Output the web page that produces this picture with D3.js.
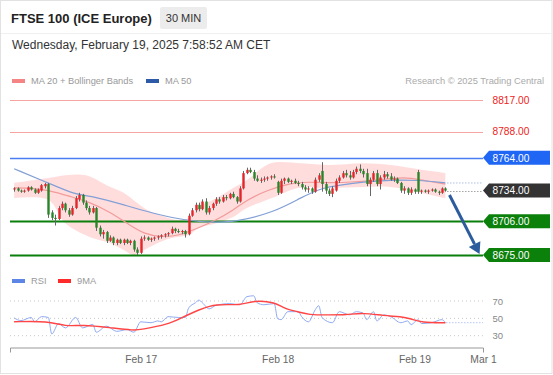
<!DOCTYPE html>
<html>
<head>
<meta charset="utf-8">
<script src="https://cdn.jsdelivr.net/npm/d3@7"></script>
<style>
  body { margin: 0; background: #fff; }
  svg text { font-family: "Liberation Sans", Arial, sans-serif; }
</style>
</head>
<body>
<div id="chart"></div>
<script>
// 30 min candles, Feb 14 -> Feb 19 2025 (index 0 .. 126)
var candleOpen = [8735,8736,8734,8733,8734,8737,8735,8732,8734,8738,8740,8714,8709,8708,8718,8722,8716,8712,8718,8726,
  8730,8723,8718,8714,8718,8700,8694,8696,8688,8691,8686,8689,8686,8689,8686,8688,8680,8677,8690,8691,
  8689,8690,8691,8692,8693,8694,8695,8699,8697,8696,8697,8694,8711,8716,8721,8717,8724,8714,8718,8722,
  8726,8724,8728,8727,8731,8728,8724,8736,8750,8753,8751,8745,8743,8744,8745,8746,8747,8742,8732,8743,
  8745,8742,8743,8741,8740,8737,8735,8736,8733,8744,8752,8740,8734,8731,8734,8743,8746,8750,8748,8746,
  8751,8754,8752,8750,8740,8744,8750,8740,8746,8749,8747,8744,8745,8741,8734,8736,8732,8735,8751,8733,
  8734,8733,8734,8735,8733,8732,8736];
var candleHigh = [8737,8737,8735,8735,8738,8738,8736,8736,8740,8741,8741,8716,8712,8720,8724,8723,8718,8720,8729,8732,
  8731,8725,8720,8720,8719,8702,8698,8697,8693,8692,8690,8690,8690,8690,8689,8689,8682,8692,8693,8692,
  8691,8692,8693,8694,8695,8696,8701,8700,8699,8698,8698,8713,8718,8723,8723,8726,8727,8720,8723,8728,
  8728,8730,8730,8732,8733,8729,8738,8752,8755,8755,8753,8748,8746,8747,8747,8748,8749,8743,8745,8746,
  8746,8744,8745,8743,8742,8739,8738,8737,8746,8750,8760,8742,8736,8738,8745,8748,8752,8753,8752,8753,
  8756,8758,8754,8754,8746,8752,8753,8748,8752,8751,8750,8747,8746,8742,8738,8737,8737,8736,8753,8735,
  8735,8735,8736,8736,8734,8737,8737];
var candleLow = [8733,8733,8732,8732,8733,8734,8731,8731,8733,8736,8709,8707,8702,8707,8716,8714,8710,8711,8717,8724,
  8721,8716,8712,8713,8697,8692,8690,8686,8687,8684,8684,8685,8684,8685,8684,8678,8675,8676,8688,8688,
  8687,8688,8689,8690,8691,8692,8694,8695,8695,8694,8691,8693,8710,8714,8715,8716,8712,8712,8716,8720,
  8722,8723,8725,8726,8727,8722,8723,8735,8749,8750,8743,8742,8741,8742,8743,8744,8745,8730,8731,8740,
  8741,8740,8740,8738,8735,8733,8732,8731,8732,8742,8733,8731,8729,8728,8733,8741,8745,8746,8744,8745,
  8749,8750,8746,8738,8729,8742,8738,8735,8744,8745,8743,8742,8740,8732,8731,8730,8730,8731,8731,8731,
  8732,8731,8733,8732,8730,8731,8733];
var candleClose = [8736,8734,8733,8734,8737,8735,8732,8735,8739,8740,8712,8709,8708,8718,8722,8716,8712,8718,8727,8730,
  8723,8718,8714,8718,8700,8694,8696,8688,8691,8686,8689,8686,8689,8686,8688,8680,8677,8690,8691,8689,
  8690,8691,8692,8693,8694,8695,8699,8697,8696,8697,8694,8711,8716,8721,8717,8724,8714,8718,8722,8726,
  8724,8728,8727,8731,8728,8724,8736,8750,8753,8751,8745,8743,8744,8745,8746,8747,8746,8732,8743,8745,
  8742,8743,8741,8740,8737,8735,8736,8733,8744,8748,8740,8734,8731,8736,8743,8746,8750,8748,8746,8751,
  8754,8752,8749,8740,8744,8750,8740,8746,8749,8747,8744,8745,8741,8734,8736,8732,8735,8733,8733,8734,
  8733,8734,8735,8733,8732,8736,8734];

// indicator lines, read at these candle indexes
var ma50Idx = [0,10,18,23,32,40,51,59,64,76,84,90,95,102,110,118,126];
var ma50Val = [8754,8741,8730,8729,8721,8713.5,8706,8705,8705,8714,8728,8736.5,8739,8742,8743.7,8743.7,8741];
var ma20Idx = [0,5,10,17,22,28,33,38,43,48,54,59,64,68,74,81,86,92,100,106,114,119,126];
var ma20Val = [8736.5,8736.4,8734.5,8728,8723.5,8714.4,8704,8694,8691.5,8692.4,8700,8707,8716,8725.4,8734.5,8741,8742,8741,8742,8743.7,8746.5,8743.7,8740];
var bbUpperIdx = [0,10,15,21,27,32,36,39,44,48,51,54,59,64,68,75,84,92,102,110,119,126];
var bbUpper = [8741,8745.5,8748,8748,8739,8732,8722.6,8716,8710,8707,8709,8719,8727,8736.4,8743.7,8759,8759,8757.4,8759,8757.4,8753,8750];
var bbLowerIdx = [0,10,15,22,28,32,35,38,42,46,51,54,59,64,68,76,83,92,102,110,119,126];
var bbLower = [8727,8725.4,8704,8691.5,8686,8679.6,8675,8679.6,8686,8690.6,8693.3,8699.7,8704,8709.8,8718,8728,8736.4,8736.4,8737.3,8737.3,8731.8,8727];

// RSI panel
var rsiIdx = [0,2,5,6,8,10,11,13,15,18,20,23,24,27,30,33,35,37,40,42,43,45,48,50,51,53,54,55,57,59,63,66,68,70,71,73,76,77,78,80,83,84,86,88,89,90,93,95,98,100,102,103,105,106,108,110,113,115,116,118,119,122,125,126];
var rsiVal = [50.5,47.4,51,46,52,51,32,44,39,51,39,43,34,41,35,37,34,46,45,47,46,52,51,51,62,68,71,68,61,65,67,65.7,75,76,68,65.7,67,49.6,48.5,57.7,57.7,52,46,60,64.6,50.8,45,57.7,54,57.7,56,48.5,57.7,47,54,52,45,47,42.7,48.5,44,45,48.5,45];
var rsiMaIdx = [0,10,15,20,28,35,37,45,49,54,59,66,70,76,79,83,86,92,97,102,108,113,116,119,126];
var rsiMaVal = [46,47,40.5,42.7,39.3,36,37,43,50.8,60,67,64.6,70.7,69,61,57.7,54,54,54,56.5,53,52,49.6,45,45];
var rsiLevels = [70, 50, 30];

// key levels on the right
var levelValues = [8817, 8788, 8764, 8734, 8706, 8675];
var levelKinds = ["res", "res", "blue", "last", "sup", "sup"];

var tickIdx = [37, 77, 117, 137];
var tickLabels = ["Feb 17", "Feb 18", "Feb 19", "Mar 1"];

var width = 553, height = 375;
var plotRight = 483;

var svg = d3.select("#chart").append("svg")
  .attr("width", width)
  .attr("height", height);

svg.append("rect").attr("x", 0.5).attr("y", 0.5).attr("width", width - 1.5).attr("height", height - 2)
  .attr("fill", "#fff").attr("stroke", "#e2e2e2");

var x = d3.scaleLinear().domain([-1.2, 137]).range([10, plotRight]);
var y = d3.scaleLinear().domain([8675, 8817]).range([255, 100]);
var yRsi = d3.scaleLinear().domain([30, 70]).range([335.7, 301]);

// header
svg.append("line").attr("x1", 1).attr("x2", width - 2).attr("y1", 33.5).attr("y2", 33.5).attr("stroke", "#f0f0f0");
svg.append("text").attr("x", 11).attr("y", 23).attr("font-size", 13).attr("font-weight", "bold")
  .attr("fill", "#222").text("FTSE 100 (ICE Europe)");
svg.append("rect").attr("x", 160).attr("y", 7).attr("width", 47).attr("height", 22).attr("rx", 2).attr("fill", "#ececec");
svg.append("text").attr("x", 183.5).attr("y", 22).attr("text-anchor", "middle").attr("font-size", 11)
  .attr("fill", "#333").text("30 MIN");
svg.append("text").attr("x", 12).attr("y", 49).attr("font-size", 12).attr("fill", "#333")
  .text("Wednesday, February 19, 2025 7:58:52 AM CET");

// legend
function legendItem(lx, ly, color, label) {
  svg.append("rect").attr("x", lx).attr("y", ly - 2).attr("width", 13).attr("height", 4).attr("fill", color);
  svg.append("text").attr("x", lx + 19).attr("y", ly + 3.3).attr("font-size", 9.3).attr("fill", "#999").text(label);
}
legendItem(12, 81, "#f58585", "MA 20 + Bollinger Bands");
legendItem(146, 81, "#2c5aa6", "MA 50");
svg.append("text").attr("x", 544).attr("y", 84.3).attr("text-anchor", "end").attr("font-size", 9.3)
  .attr("fill", "#aaa").text("Research \u00a9 2025 Trading Central");

// bollinger band
var bandPts = bbUpperIdx.map(function(d, i) { return [x(d), y(bbUpper[i])]; });
var lowPts = bbLowerIdx.map(function(d, i) { return [x(d), y(bbLower[i])]; }).reverse();
var smooth = d3.line().curve(d3.curveCatmullRom);
svg.append("path")
  .attr("d", smooth(bandPts) + "L" + smooth(lowPts).slice(1) + "Z")
  .attr("fill", "#ffd9d9").attr("opacity", 0.9);

// level lines
var last = candleClose.length - 1;
levelValues.forEach(function(v, i) {
  var k = levelKinds[i];
  var ly = Math.round(y(v)) + 0.5;
  if (k == "last") {
    svg.append("line").attr("x1", x(last) + 2).attr("x2", plotRight).attr("y1", ly).attr("y2", ly)
      .attr("stroke", "#777").attr("stroke-dasharray", "1,2");
    return;
  }
  var col = k == "res" ? "#f6a3a3" : (k == "blue" ? "#4a7cf2" : "#0b7f0b");
  svg.append("line").attr("x1", 10).attr("x2", plotRight).attr("y1", ly).attr("y2", ly)
    .attr("stroke", col).attr("stroke-width", k == "sup" ? 2 : (k == "blue" ? 1.3 : 1));
});

// MA lines
var maLine = d3.line().curve(d3.curveBasis);
svg.append("path").attr("d", maLine(ma20Idx.map(function(d, i) { return [x(d), y(ma20Val[i])]; })))
  .attr("fill", "none").attr("stroke", "#f39a9a").attr("stroke-width", 1.2);
svg.append("path").attr("d", maLine(ma50Idx.map(function(d, i) { return [x(d), y(ma50Val[i])]; })))
  .attr("fill", "none").attr("stroke", "#829fd6").attr("stroke-width", 1.2);
svg.append("line").attr("x1", x(last) + 2).attr("x2", plotRight)
  .attr("y1", y(ma50Val[ma50Val.length - 1])).attr("y2", y(ma50Val[ma50Val.length - 1]))
  .attr("stroke", "#829fd6").attr("stroke-dasharray", "1,2");

// candles
var candles = svg.append("g").selectAll("g").data(candleClose).enter().append("g");
candles.append("line")
  .attr("x1", function(d, i) { return Math.round(x(i)) + 0.5; })
  .attr("x2", function(d, i) { return Math.round(x(i)) + 0.5; })
  .attr("y1", function(d, i) { return y(candleHigh[i]); })
  .attr("y2", function(d, i) { return y(candleLow[i]); })
  .attr("stroke", "#666").attr("stroke-width", 1);
candles.append("rect")
  .attr("x", function(d, i) { return Math.round(x(i)) - 0.7; })
  .attr("width", 2.4)
  .attr("y", function(d, i) { return y(Math.max(candleOpen[i], d)); })
  .attr("height", function(d, i) { return Math.max(1, Math.abs(y(candleOpen[i]) - y(d))); })
  .attr("fill", function(d, i) { return d >= candleOpen[i] ? "#e3262b" : "#2a852a"; });

// price labels on the right
levelValues.forEach(function(v, i) {
  var k = levelKinds[i];
  var ly = y(v);
  if (k == "res") {
    svg.append("text").attr("x", 492.5).attr("y", ly + 3.7).attr("font-size", 10.2)
      .attr("fill", "#ee2222").text(v.toFixed(2));
    return;
  }
  var col = k == "blue" ? "#1f66f5" : (k == "last" ? "#333333" : "#0b800b");
  svg.append("path")
    .attr("d", "M" + plotRight + "," + ly + "L" + (plotRight + 6) + "," + (ly - 7) + "L550," + (ly - 7) +
      "L550," + (ly + 7) + "L" + (plotRight + 6) + "," + (ly + 7) + "Z")
    .attr("fill", col);
  svg.append("text").attr("x", 492.5).attr("y", ly + 3.7).attr("font-size", 10.2)
    .attr("fill", "#fff").text(v.toFixed(2));
});

// forecast arrow
var a0 = [x(127.2), y(8730)], a1 = [x(136), y(8676)];
var ang = Math.atan2(a1[1] - a0[1], a1[0] - a0[0]);
var headLen = 11, headW = 6.5;
var base = [a1[0] - headLen * Math.cos(ang), a1[1] - headLen * Math.sin(ang)];
svg.append("line").attr("x1", a0[0]).attr("y1", a0[1]).attr("x2", base[0]).attr("y2", base[1])
  .attr("stroke", "#2d5c9d").attr("stroke-width", 3);
svg.append("path")
  .attr("d", "M" + a1[0] + "," + a1[1] +
    "L" + (base[0] + headW * Math.sin(ang)) + "," + (base[1] - headW * Math.cos(ang)) +
    "L" + (base[0] - headW * Math.sin(ang)) + "," + (base[1] + headW * Math.cos(ang)) + "Z")
  .attr("fill", "#2d5c9d");

// RSI panel
legendItem(12, 281, "#5d85e6", "RSI");
legendItem(58, 281, "#ff2a2a", "9MA");
rsiLevels.forEach(function(v) {
  svg.append("line").attr("x1", 10).attr("x2", plotRight).attr("y1", yRsi(v)).attr("y2", yRsi(v))
    .attr("stroke", "#c8c8c8").attr("stroke-dasharray", "1,3");
  svg.append("text").attr("x", 492.5).attr("y", yRsi(v) + 3.5).attr("font-size", 9.5)
    .attr("fill", "#888").text(v);
});
var rsiLine = d3.line().curve(d3.curveMonotoneX);
svg.append("path").attr("d", rsiLine(rsiIdx.map(function(d, i) { return [x(d), yRsi(rsiVal[i])]; })))
  .attr("fill", "none").attr("stroke", "#90abf2").attr("stroke-width", 1);
svg.append("line").attr("x1", x(last) + 1).attr("x2", plotRight)
  .attr("y1", yRsi(rsiVal[rsiVal.length - 1])).attr("y2", yRsi(rsiVal[rsiVal.length - 1]))
  .attr("stroke", "#90abf2").attr("stroke-dasharray", "1,2");
svg.append("path").attr("d", maLine(rsiMaIdx.map(function(d, i) { return [x(d), yRsi(rsiMaVal[i])]; })))
  .attr("fill", "none").attr("stroke", "#ff4545").attr("stroke-width", 1.4);

// x axis
var xAxis = d3.axisBottom(x)
  .tickValues(tickIdx)
  .tickFormat(function(d, i) { return tickLabels[i]; })
  .tickSizeInner(0)
  .tickSizeOuter(5)
  .tickPadding(8);
var gx = svg.append("g").attr("transform", "translate(0,347.5)").call(xAxis);
gx.select(".domain").attr("stroke", "#999");
gx.selectAll("text").attr("font-size", 10.3).attr("fill", "#666")
  .attr("font-family", "'Liberation Sans', Arial, sans-serif");
</script>
</body>
</html>
